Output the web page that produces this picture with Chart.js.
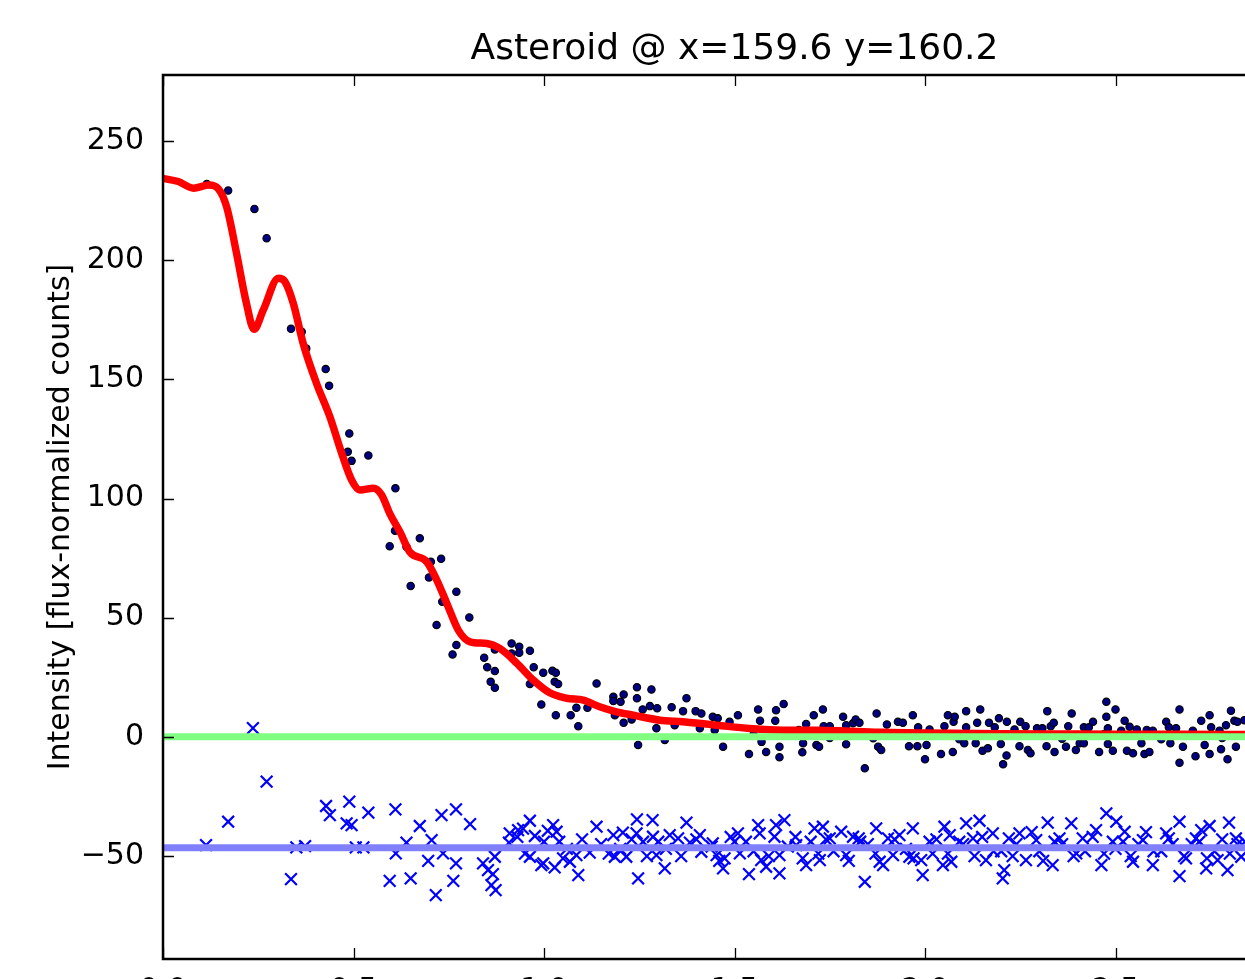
<!DOCTYPE html>
<html>
<head>
<meta charset="utf-8">
<script src="https://cdn.jsdelivr.net/npm/chart.js@4.4.0/dist/chart.umd.min.js"></script>
<style>
  html, body { margin: 0; padding: 0; overflow: hidden; background: #fff; }
  canvas { display: block; }
</style>
</head>
<body>
<canvas id="c" width="1466" height="1010"></canvas>
<script>
// ---- Data ----
const titleText = "Asteroid @ x=159.6 y=160.2";
const yAxisLabel = "Intensity [flux-normalized counts]";
const xTicks = [0.0, 0.5, 1.0, 1.5, 2.0, 2.5, 3.0];
const yTicks = [-50, 0, 50, 100, 150, 200, 250];

// measured data points (black dots)
const dotX = [0.115,0.171,0.24,0.272,0.336,0.364,0.376,0.427,0.436,0.485,0.489,0.495,0.539,0.595,0.609,0.61,0.639,0.65,0.674,0.698,0.703,0.718,0.73,0.733,0.76,0.77,0.77,0.804,0.843,0.851,0.86,0.871,0.871,0.871,0.915,0.915,0.935,0.935,0.963,0.963,0.973,0.993,0.998,1.022,1.028,1.031,1.031,1.037,1.07,1.085,1.09,1.114,1.138,1.182,1.182,1.186,1.201,1.209,1.209,1.23,1.244,1.244,1.247,1.259,1.278,1.282,1.295,1.297,1.317,1.335,1.343,1.365,1.374,1.398,1.409,1.413,1.443,1.448,1.456,1.47,1.487,1.509,1.538,1.55,1.562,1.567,1.571,1.583,1.607,1.609,1.618,1.618,1.629,1.669,1.678,1.68,1.688,1.708,1.715,1.722,1.732,1.734,1.75,1.75,1.785,1.793,1.793,1.811,1.818,1.828,1.842,1.864,1.873,1.877,1.885,1.9,1.929,1.942,1.95,1.958,1.968,1.98,1.982,2.0,2.004,2.012,2.042,2.051,2.06,2.073,2.075,2.078,2.09,2.103,2.108,2.108,2.133,2.137,2.145,2.151,2.165,2.168,2.183,2.194,2.199,2.205,2.214,2.215,2.22,2.235,2.248,2.25,2.264,2.27,2.277,2.294,2.308,2.319,2.321,2.33,2.338,2.34,2.36,2.37,2.376,2.385,2.396,2.406,2.417,2.417,2.43,2.441,2.457,2.47,2.476,2.476,2.48,2.48,2.493,2.5,2.515,2.524,2.53,2.537,2.546,2.556,2.568,2.576,2.582,2.589,2.598,2.62,2.633,2.64,2.644,2.659,2.668,2.668,2.677,2.7,2.703,2.71,2.725,2.734,2.747,2.747,2.751,2.773,2.777,2.78,2.79,2.794,2.803,2.812,2.816,2.82,2.838];
const dotY = [232,229.2,221.5,209.2,171.2,170,163,154.3,147.3,119.6,127.3,115.8,118.1,80,86.5,104.3,79.8,63.3,83.3,66.9,73.5,46.9,74.7,56.7,34.6,60.9,38.5,50.1,33.2,29.2,23.1,36.7,27.6,20.6,39.2,35,37.8,35.3,36.1,22.2,29.2,13.6,26.9,27.7,23.1,26.9,9.1,22.2,9.1,12.2,4.5,12.2,22.4,16.8,15.1,9.1,14.7,17.8,5.9,7.3,20.8,16.2,-3.4,11.5,12.9,19.9,3.6,12,-1.3,12.4,4.9,10.8,16.2,10.8,3.6,9.8,8.4,2.9,7.8,-4.1,6.3,9.1,-7.2,1,11.5,6.8,-2.1,-6.3,6.8,11.2,-4.1,-8.6,13.8,2.9,-6.5,-2.7,5.4,9.1,-3.4,-4.1,11.5,4.5,4.5,-0.5,8.4,4.9,-3.1,5.7,7.3,5.9,-13.2,-0.6,9.8,-4.1,-5.5,5.2,6.3,5.9,1,-3.9,9.1,-3.9,4,-9.4,-3.4,3.1,-7.2,4.5,9.1,-6.3,6.3,8.4,-1,-2.7,10.8,4,-2.7,5.9,11.5,-5.8,-4.8,5.9,4,7.8,-3,-11.5,-7.8,6.3,0.5,3.1,-3.9,6.3,4.5,-5.5,-6.9,3.6,3.6,-3.9,10.8,4.5,5.9,-6.3,-0.8,-4.1,4.5,9.8,-5.5,-2.7,4,-2.7,4,6.3,-6.3,1.2,14.7,8.4,3.6,-3,-5.8,11.5,2.6,6.8,-5.8,4.2,-6.9,3.1,-2.7,-7.2,2.9,-6.3,2.6,-1,6.3,4,-2.7,3.6,11.5,-10.9,-4.1,0.8,2.6,-8.1,6.8,-3.4,9.1,-7.2,4,2.6,-5.2,-0.5,4.9,-9.4,11,6.8,-4.1,6.3,7];

// residuals, shown offset (blue crosses)
const resX = [0.113,0.171,0.236,0.272,0.336,0.35,0.373,0.428,0.438,0.482,0.489,0.495,0.506,0.526,0.539,0.595,0.61,0.611,0.639,0.65,0.674,0.696,0.705,0.716,0.731,0.735,0.762,0.769,0.769,0.806,0.84,0.853,0.862,0.866,0.871,0.873,0.908,0.91,0.932,0.945,0.963,0.963,0.976,0.993,0.998,1.01,1.024,1.028,1.033,1.04,1.06,1.068,1.085,1.09,1.12,1.138,1.15,1.182,1.186,1.2,1.207,1.216,1.243,1.244,1.247,1.26,1.285,1.286,1.295,1.317,1.32,1.33,1.352,1.374,1.383,1.409,1.413,1.44,1.443,1.453,1.47,1.474,1.5,1.509,1.514,1.538,1.55,1.562,1.566,1.57,1.583,1.605,1.609,1.618,1.618,1.631,1.64,1.662,1.679,1.688,1.7,1.71,1.724,1.732,1.75,1.76,1.78,1.793,1.811,1.826,1.842,1.85,1.872,1.881,1.89,1.903,1.916,1.933,1.95,1.959,1.968,1.99,1.994,2.012,2.02,2.047,2.051,2.065,2.069,2.1,2.108,2.126,2.143,2.16,2.178,2.18,2.204,2.208,2.22,2.24,2.248,2.265,2.292,2.3,2.322,2.335,2.353,2.36,2.384,2.397,2.414,2.42,2.449,2.463,2.476,2.493,2.5,2.502,2.524,2.546,2.56,2.572,2.598,2.62,2.633,2.64,2.668,2.668,2.685,2.7,2.711,2.725,2.738,2.747,2.76,2.768,2.794,2.798,2.816,2.82,2.83,
  0.93,0.95,1.0,1.05,1.1,1.17,1.23,1.27,1.3,1.36,1.4,1.46,1.49,1.53,1.59,1.66,1.72,1.74,1.8,1.83,1.87,1.92,1.97,2.03,2.06,2.09,2.13,2.15,2.2,2.23,2.28,2.31,2.34,2.39,2.44,2.47,2.52,2.54,2.58,2.6,2.65,2.68,2.72,2.74,2.78,2.8,2.84];
const resY = [-45.4,-35.6,3.7,-18.8,-59.7,-46.4,-45.8,-29,-32.8,-36.3,-27.2,-37,-46.4,-46.4,-31.8,-60.4,-30.4,-48.9,-44.4,-59.4,-37.4,-52,-43.3,-66.4,-32.8,-48.9,-60.4,-30.4,-53.1,-36.6,-53.1,-55.9,-62.2,-57.6,-50.3,-64.3,-44.4,-40.5,-39.1,-38.5,-35.2,-50.3,-41.6,-53.8,-53.1,-39.4,-37,-54.8,-39.8,-44,-47,-52.4,-49.6,-58,-48.6,-37.7,-45,-41.2,-50.3,-47,-40.2,-50.3,-40.5,-34.6,-59.4,-44,-34.9,-41.9,-49.6,-55.2,-47,-41.2,-42.6,-36,-44.4,-41.2,-48.2,-46,-44.7,-49.6,-55.2,-51,-44,-40.5,-48.9,-57.6,-48,-37,-40.5,-51.7,-54.5,-41.9,-37,-49.6,-57.3,-34.9,-46,-45.4,-51,-53.8,-44,-38.4,-51.7,-37.7,-42.6,-48,-39.8,-49.6,-41.9,-42.6,-60.8,-45,-38.4,-52.4,-53.8,-42.6,-49.6,-41.2,-47,-50.3,-38.4,-51.7,-58,-44,-49,-53.8,-37.7,-41.2,-52.4,-45,-36.3,-42.6,-35.2,-51.7,-40.5,-48,-59.4,-55.9,-42.6,-45,-40.5,-51.7,-43.3,-48,-36,-53.8,-42.6,-45,-36.3,-48.9,-42.6,-48,-39.1,-53.8,-32.1,-44,-47,-35.6,-39.8,-52.4,-45,-43.3,-53.8,-48,-40.5,-42.6,-35.6,-58.4,-51,-45,-42.6,-39.1,-55.2,-37.4,-48,-51.7,-55.9,-36,-42.6,-45,-50.3,
  -42,-49,-44,-51,-43,-49,-43,-50,-44,-50,-43,-52,-42,-44,-50,-42,-49,-43,-52,-44,-49,-43,-51,-43,-49,-44,-50,-42,-48,-50,-40,-52,-44,-50,-42,-49,-44,-50,-40,-48,-45,-50,-44,-51,-43,-49,-44];

// model profile (red curve)
const modelX = [0,0.04,0.08,0.12,0.145,0.167,0.193,0.219,0.239,0.263,0.303,0.32,0.342,0.368,0.403,0.438,0.469,0.495,0.517,0.552,0.574,0.595,0.622,0.648,0.692,0.718,0.745,0.775,0.806,0.85,0.884,0.928,0.972,1.015,1.059,1.103,1.146,1.19,1.234,1.304,1.365,1.453,1.54,1.627,1.715,1.802,1.889,2.0,2.2,2.4,2.6,2.8,3.0];
const modelY = [234.3,233,230.2,231.5,230,222.4,202.9,181.9,171,179,192.4,191,181.9,165,148.3,134.3,119,107.8,103.6,104.3,101.5,93.8,86,77.5,73.5,66,56,44.8,39.9,39.2,37.1,31,23.8,18.5,16.2,15.4,12.6,10.5,9.1,7,6.3,4.9,3.5,2.8,2.8,2.4,1.9,1.6,1.3,1.2,1.1,1.0,1.0];

// reference levels
const zeroX = [0, 3.0];
const zeroY = [0, 0];
const residOffsetX = [0, 3.0];
const residOffsetY = [-46.5, -46.5];

const xMin = 0, xMax = 3.0, yMin = -93.2, yMax = 277.7;

const pts = (xs, ys) => xs.map((x, i) => ({ x: x, y: ys[i] }));

const frameTicks = {
  id: 'frameTicks',
  afterDatasetsDraw(chart) {
    const { ctx, chartArea: { left, top, right, bottom }, scales: { x, y } } = chart;
    ctx.save();
    ctx.strokeStyle = '#000';
    ctx.lineWidth = 1.3;
    ctx.beginPath();
    x.ticks.forEach(t => {
      const px = Math.round(x.getPixelForValue(t.value)) + 0.5;
      ctx.moveTo(px, bottom); ctx.lineTo(px, bottom - 11);
      ctx.moveTo(px, top); ctx.lineTo(px, top + 11);
    });
    y.ticks.forEach(t => {
      const py = Math.round(y.getPixelForValue(t.value)) + 0.5;
      ctx.moveTo(left, py); ctx.lineTo(left + 11, py);
      ctx.moveTo(right, py); ctx.lineTo(right - 11, py);
    });
    ctx.stroke();
    ctx.lineWidth = 2.5;
    ctx.strokeRect(left, top, right - left, bottom - top);
    ctx.restore();
  }
};

Chart.defaults.font.family = "'DejaVu Sans', sans-serif";
Chart.defaults.color = '#000';

new Chart(document.getElementById('c'), {
  type: 'scatter',
  data: {
    datasets: [
      { label: 'resid level', data: pts(residOffsetX, residOffsetY), showLine: true,
        borderColor: '#8080ff', borderWidth: 7, pointRadius: 0, fill: false },
      { label: 'zero', data: pts(zeroX, zeroY), showLine: true,
        borderColor: '#80ff80', borderWidth: 7, pointRadius: 0, fill: false },
      { label: 'model', data: pts(modelX, modelY), showLine: true,
        borderColor: '#ff0000', borderWidth: 7.5, pointRadius: 0, fill: false,
        cubicInterpolationMode: 'monotone', borderCapStyle: 'round', borderJoinStyle: 'round' },
      { label: 'residuals', data: pts(resX, resY), pointStyle: 'crossRot',
        pointRadius: 8.3, pointBorderWidth: 2.2, borderColor: '#0000ff', backgroundColor: '#0000ff' },
      { label: 'data', data: pts(dotX, dotY), pointStyle: 'circle',
        pointRadius: 3.7, pointBorderWidth: 1.1, borderColor: '#000000', backgroundColor: '#000080' }
    ]
  },
  options: {
    responsive: false,
    animation: false,
    devicePixelRatio: 1,
    layout: { padding: { left: 0, top: 0, right: 160, bottom: 0 } },
    plugins: {
      legend: { display: false },
      tooltip: { enabled: false },
      title: {
        display: true, text: titleText, fullSize: false,
        font: { size: 36, weight: 'normal' }, color: '#000',
        padding: { top: 27.6, bottom: 4.2 }
      }
    },
    scales: {
      x: {
        type: 'linear', min: xMin, max: xMax,
        afterBuildTicks: s => { s.ticks = xTicks.map(v => ({ value: v })); },
        afterFit: s => { s.height = 1010 - 959; },
        grid: { display: false },
        border: { display: false },
        ticks: { font: { size: 30 }, color: '#000', padding: 6, maxRotation: 0, autoSkip: false,
                 callback: v => Number(v).toFixed(1) }
      },
      y: {
        type: 'linear', min: yMin, max: yMax,
        afterBuildTicks: s => { s.ticks = yTicks.map(v => ({ value: v })); },
        afterFit: s => { s.width = 163; },
        grid: { display: false },
        border: { display: false },
        ticks: { font: { size: 30 }, color: '#000', padding: 11, autoSkip: false,
                 callback: v => (v < 0 ? '\u2212' + Math.abs(v) : String(v)) },
        title: { display: true, text: yAxisLabel, font: { size: 30 }, color: '#000',
                 padding: { top: 43, bottom: 0 } }
      }
    }
  },
  plugins: [frameTicks]
});
</script>
</body>
</html>
